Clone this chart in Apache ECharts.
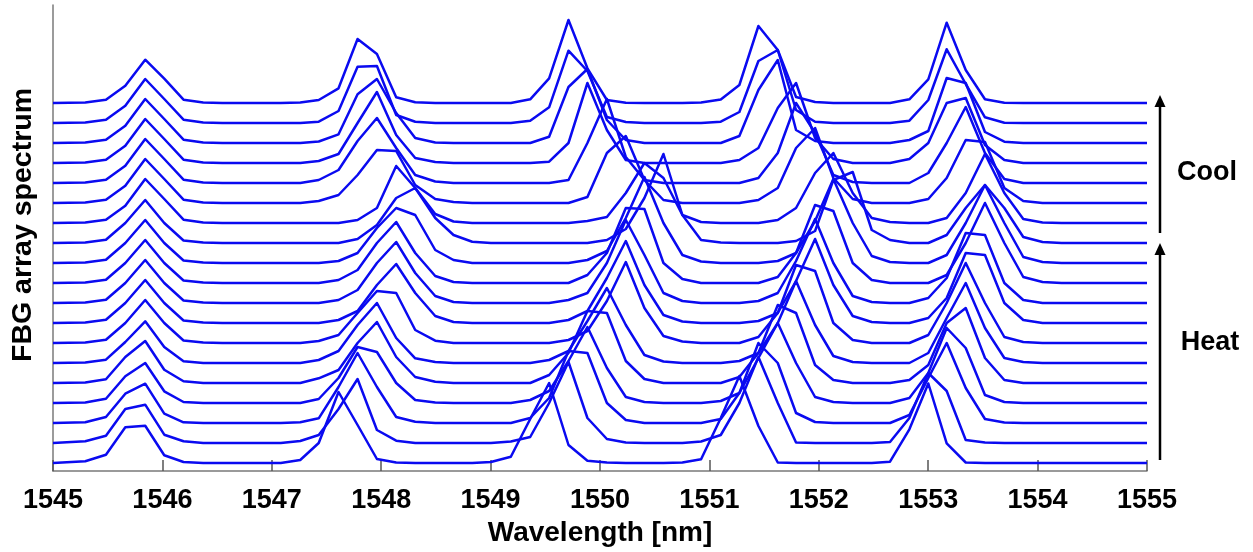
<!DOCTYPE html>
<html><head><meta charset="utf-8">
<script src="https://cdn.jsdelivr.net/npm/echarts@6/dist/echarts.min.js"></script>
<style>html,body{margin:0;padding:0;background:#fff}#c{width:1253px;height:552px}</style>
</head><body><div id="c"></div>
<script>
const wavelengths = [1545.00,1545.295,1545.484,1545.661,1545.843,1546.017,1546.193,1546.373,1546.547,1546.725,
1546.903,1547.082,1547.260,1547.429,1547.610,1547.784,1547.961,1548.137,1548.311,1548.494,
1548.661,1548.832,1549.003,1549.185,1549.362,1549.535,1549.712,1549.885,1550.063,1550.236,
1550.406,1550.580,1550.753,1550.924,1551.104,1551.274,1551.448,1551.625,1551.792,1551.966,
1552.133,1552.310,1552.484,1552.651,1552.828,1553.001,1553.169,1553.343,1553.519,1553.696,
1553.869,1554.045,1554.219,1554.392,1554.566,1554.740,1554.913,1555.00];
const xTicks = [1545,1546,1547,1548,1549,1550,1551,1552,1553,1554,1555];
const traceOffset = 20;   // vertical offset between stacked spectra (a.u.)
const baseOffset = 8;
// Each spectrum: list of reflection peaks, [first grid index, amplitudes...]; zero elsewhere.
const trace00 = [[1,1.7,8.3,35.7,37.3,7.7,1],[12,3,20,71,38,4,0.5],[22,1,6.3,44,80,18,2.3,0.5],[32,0.5,3.7,45,87,37,0.5],[43,1.3,33.7,79.5,19.6,0.5]];
const trace01 = [[1,1.7,7.3,34,38.3,8.3,1.7],[12,2,8,34,64,13,2.3],[23,1.5,6,40,81,25,4,0.5],[33,1.5,8,40,86,40,0.5],[43,1,25,70,52,3,0.5]];
const trace02 = [[1,0.7,6,29.3,39.3,9.3,0.7],[12,0.7,4.7,36,70,36,6,1.3],[24,5,25,72,70,20,3],[34,4,30,80,60,10,1],[44,8,45,80,35,4,0.5]];
const trace03 = [[1,0.5,4.3,26.7,40,11.7,1],[13,4,25,56,51,20,3,0.5],[24,3,12,42,76,35,6,1],[34,2,10,45,80,40,6,1],[44,5,30,75,55,8,1]];
const trace04 = [[1,0.5,3.7,26,42,13.3,1.7],[13,4.7,13,40,61,26,6,1.3],[25,8,30,72,70,22,4],[35,6,30,78,70,18,3],[44,3,18,60,75,25,3]];
const trace05 = [[1,0.5,3.3,21,41.7,16,1.7],[13,3,12,38,60,25,4.7,1],[25,3,12,42,75,38,8,1.5],[35,2,10,40,82,38,7,1],[45,10,45,80,35,5,1]];
const trace06 = [[1,0.5,3.3,20,43,20,2.5,0.5],[13,2,8,30,52,50,13,2.3],[26,3,12,42,81,35,7,1.5],[36,6,30,78,72,20,3],[45,8,40,80,40,6,1]];
const trace07 = [[1,0.5,3.3,20,43,20,2.5,0.5],[14,3,12,38,59,30,7,1],[26,3,12,45,82,38,8,1.5],[36,2,10,42,84,38,7,1],[45,5,25,70,68,20,3]];
const trace08 = [[1,0.5,3.3,20,43,20,2.5,0.5],[14,3,13,40,61,30,7,1],[26,3,10,40,83,48,10,2],[36,2,10,42,84,40,7,1],[45,5,25,70,68,20,3]];
const trace09 = [[1,0.5,3.3,20,43,20,2.5,0.5],[14,3,13,40,61,30,7,1],[27,8,30,75,74,20,4],[37,6,30,78,72,20,3],[46,8,40,80,40,6,1]];
const trace10 = [[1,0.5,3.3,20,43,20,2.5,0.5],[14,2,10,35,55,48,13,3],[27,3,12,45,86,40,8,1.5],[37,2,10,42,84,40,7,1],[46,8,40,78,40,6,1]];
const trace11 = [[1,0.5,3.3,20,43,20,2.5,0.5],[15,4,18,45,55,25,8,1.3],[28,3,14,45,89,28,3,0.5],[38,2,12,63,71,13,3],[46,8,35,58,35,6,1]];
const trace12 = [[1,0.5,3.3,17.3,44,24,3.3,0.6],[15,3,15,57,35,9,1.5],[27,2,6,30,60,45,8,1],[37,3,15,50,70,30,5,1],[46,5,30,69,30,4,0.5]];
const trace13 = [[1,0.5,3.3,17.3,44,24,3.3,0.6],[13,2,8,28,53,52,18,4,1],[27,6,50,67,23,3],[36,3,15,55,75,25,4],[45,4,25,63,61,15,2]];
const trace14 = [[1,0.5,3.3,17.3,44,24,3.3,0.6],[13,3,13,42,65,35,8,1.5],[26,3,40,84,26,3],[36,5,30,80,50,8,1],[45,10,40,76,30,4]];
const trace15 = [[1,0.5,3.3,17.3,44,24,3.3,0.6],[13,2,9,40,71,28,5,1],[25,1.3,20,80,33,3],[35,3,15,55,80,25,4],[44,4,20,60,65,18,3]];
const trace16 = [[1,0.5,3.3,17.3,44,24,3.3,0.6],[13,1.5,8.7,48.7,64,30,5,0.5],[25,6.3,56,74,23,3],[35,7,53,83,13,2],[44,3,12,65,60,11,1.3]];
const trace17 = [[1,0.5,3.3,17.3,44,24,3.3,0.6],[13,1.3,12,56.3,57,8,1.3],[24,2.3,15.7,72.3,52,6,1],[34,1.3,11,62,73,13,1.3],[44,2.3,23,73.7,39,5.7,0.3]];
const trace18 = [[1,0.6,3.3,17.3,43.3,24.3,3.3,0.6],[12,0.5,3,14.7,64,49,5.7,0.7],[24,3.7,24.7,83,34.7,3,0.3],[33,0.5,3.5,18,77,53,6,1],[44,3.7,23.7,80.3,33,3.7,0.3]];
const traces = [trace00,trace01,trace02,trace03,trace04,trace05,trace06,trace07,trace08,trace09,
                trace10,trace11,trace12,trace13,trace14,trace15,trace16,trace17,trace18];

const FONT = '"Liberation Sans", Arial, sans-serif';
const BLUE = '#0a0af0';

function buildSeries(peaks, i) {
  const amp = wavelengths.map(() => 0);
  peaks.forEach(p => { for (let j = 1; j < p.length; j++) amp[p[0] + j - 1] = p[j]; });
  return {
    type: 'line', symbol: 'none', silent: true, animation: false,
    lineStyle: { color: BLUE, width: 2.5, join: 'round' },
    data: wavelengths.map((w, k) => [w, baseOffset + traceOffset * i + amp[k]])
  };
}

const chart = echarts.init(document.getElementById('c'), null, { renderer: 'canvas' });
chart.setOption({
  animation: false,
  backgroundColor: '#fff',
  grid: { left: 53, right: 106, top: 5, bottom: 81, containLabel: false },
  xAxis: {
    type: 'value', min: xTicks[0], max: xTicks[xTicks.length - 1], interval: 1,
    name: 'Wavelength [nm]', nameLocation: 'middle', nameGap: 45,
    nameTextStyle: { fontFamily: FONT, fontWeight: 'bold', fontSize: 28, color: '#000' },
    axisLine: { show: true, lineStyle: { color: '#7a7a7a', width: 1.5 } },
    axisTick: { show: true, inside: true, length: 11, lineStyle: { color: '#555', width: 1.5 } },
    axisLabel: { fontFamily: FONT, fontWeight: 'bold', fontSize: 27, color: '#000', margin: 16,
                 formatter: v => String(v) },
    splitLine: { show: false }
  },
  yAxis: {
    type: 'value', min: 0, max: 466,
    name: 'FBG array spectrum', nameLocation: 'middle', nameGap: 15,
    nameTextStyle: { fontFamily: FONT, fontWeight: 'bold', fontSize: 28.5, color: '#000', padding: [0, 0, 0, 26] },
    axisLine: { show: true, lineStyle: { color: '#7a7a7a', width: 1.5 } },
    axisTick: { show: false }, axisLabel: { show: false }, splitLine: { show: false }
  },
  series: traces.map((t, i) => buildSeries(t, i)),
  graphic: [
    { type: 'line', shape: { x1: 1160, y1: 233, x2: 1160, y2: 100 }, style: { stroke: '#000', lineWidth: 2.5 } },
    { type: 'polygon', shape: { points: [[1160, 95], [1154.5, 107], [1165.5, 107]] }, style: { fill: '#000' } },
    { type: 'line', shape: { x1: 1160, y1: 460, x2: 1160, y2: 248 }, style: { stroke: '#000', lineWidth: 2.5 } },
    { type: 'polygon', shape: { points: [[1160, 243], [1154.5, 255], [1165.5, 255]] }, style: { fill: '#000' } },
    { type: 'text', x: 1207, y: 173, style: { text: 'Cool', font: 'bold 27px ' + FONT, fill: '#000', textAlign: 'center', textVerticalAlign: 'middle' } },
    { type: 'text', x: 1210, y: 343, style: { text: 'Heat', font: 'bold 27px ' + FONT, fill: '#000', textAlign: 'center', textVerticalAlign: 'middle' } }
  ]
});
</script></body></html>
